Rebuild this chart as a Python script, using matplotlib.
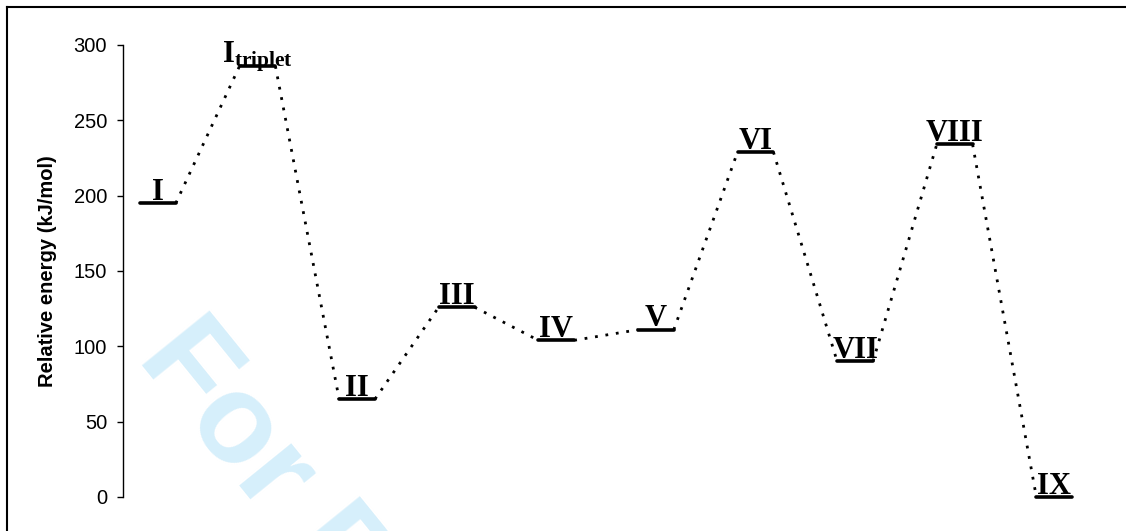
import numpy as np
import matplotlib.pyplot as plt
from matplotlib.lines import Line2D

# energy profile: states and their relative energies (kJ/mol)
states = ['I', 'I_triplet', 'II', 'III', 'IV', 'V', 'VI', 'VII', 'VIII', 'IX']
energies = [195, 286, 65, 126, 104, 111, 229, 90, 234, 0]
yticks = [0, 50, 100, 150, 200, 250, 300]

plt.rcParams['mathtext.fontset'] = 'custom'
plt.rcParams['mathtext.rm'] = 'Liberation Serif:bold'
plt.rcParams['mathtext.bf'] = 'Liberation Serif:bold'
plt.rcParams['mathtext.it'] = 'Liberation Serif:bold'

W, H = 1126, 531
fig = plt.figure(figsize=(W / 100, H / 100), dpi=100)
ax = fig.add_axes([123 / W, (H - 497) / H, (W - 123) / W, 452 / H])

half = 0.18
x = np.arange(len(states))

# connectors between levels
for i in range(len(states) - 1):
    ax.plot([x[i] + half, x[i + 1] - half], [energies[i], energies[i + 1]],
            color='black', lw=2.0, linestyle=(0, (1.0, 2.8)), clip_on=False, zorder=2)

# levels + labels
for i, (s, e) in enumerate(zip(states, energies)):
    ax.plot([x[i] - half, x[i] + half], [e, e], color='black', lw=2.6,
            solid_capstyle='round', clip_on=False, zorder=3)
    if s == 'I_triplet':
        lab = r'$\mathbf{I}_{\mathbf{triplet}}$'
    else:
        lab = s
    ax.annotate(lab, (x[i], e), xytext=(0, 2.5), textcoords='offset points',
                ha='center', va='baseline', fontsize=22, fontweight='bold',
                family='Liberation Serif', zorder=4, annotation_clip=False)

# watermark
ax.text(136 / W, 1 - 358 / H, 'For Peer Review', transform=fig.transFigure,
        rotation=-51, rotation_mode='anchor', ha='left', va='baseline',
        fontsize=91, fontweight='bold', family='Liberation Sans',
        color='#d6effb', zorder=0, clip_on=False)

ax.set_xlim(-0.35, 9.72)
ax.set_ylim(0, 300)
ax.set_yticks(yticks)
ax.set_xticks([])
for sp in ['top', 'right', 'bottom']:
    ax.spines[sp].set_visible(False)
ax.spines['left'].set_linewidth(1.0)
ax.tick_params(axis='y', direction='out', length=4.5, width=1.0, pad=7,
               labelsize=14.5)
for t in ax.get_yticklabels():
    t.set_family('Liberation Sans')
ax.set_ylabel('Relative energy (kJ/mol)', fontsize=14.5, fontweight='bold',
              family='Liberation Sans', labelpad=12)

# frame around the chart (only top and left visible in crop)
fig.add_artist(Line2D([7 / W, 1], [1 - 7 / H, 1 - 7 / H], transform=fig.transFigure,
                      color='black', lw=1.5))
fig.add_artist(Line2D([7 / W, 7 / W], [0, 1 - 7 / H], transform=fig.transFigure,
                      color='black', lw=1.5))

fig.savefig('out.png', dpi=100)
